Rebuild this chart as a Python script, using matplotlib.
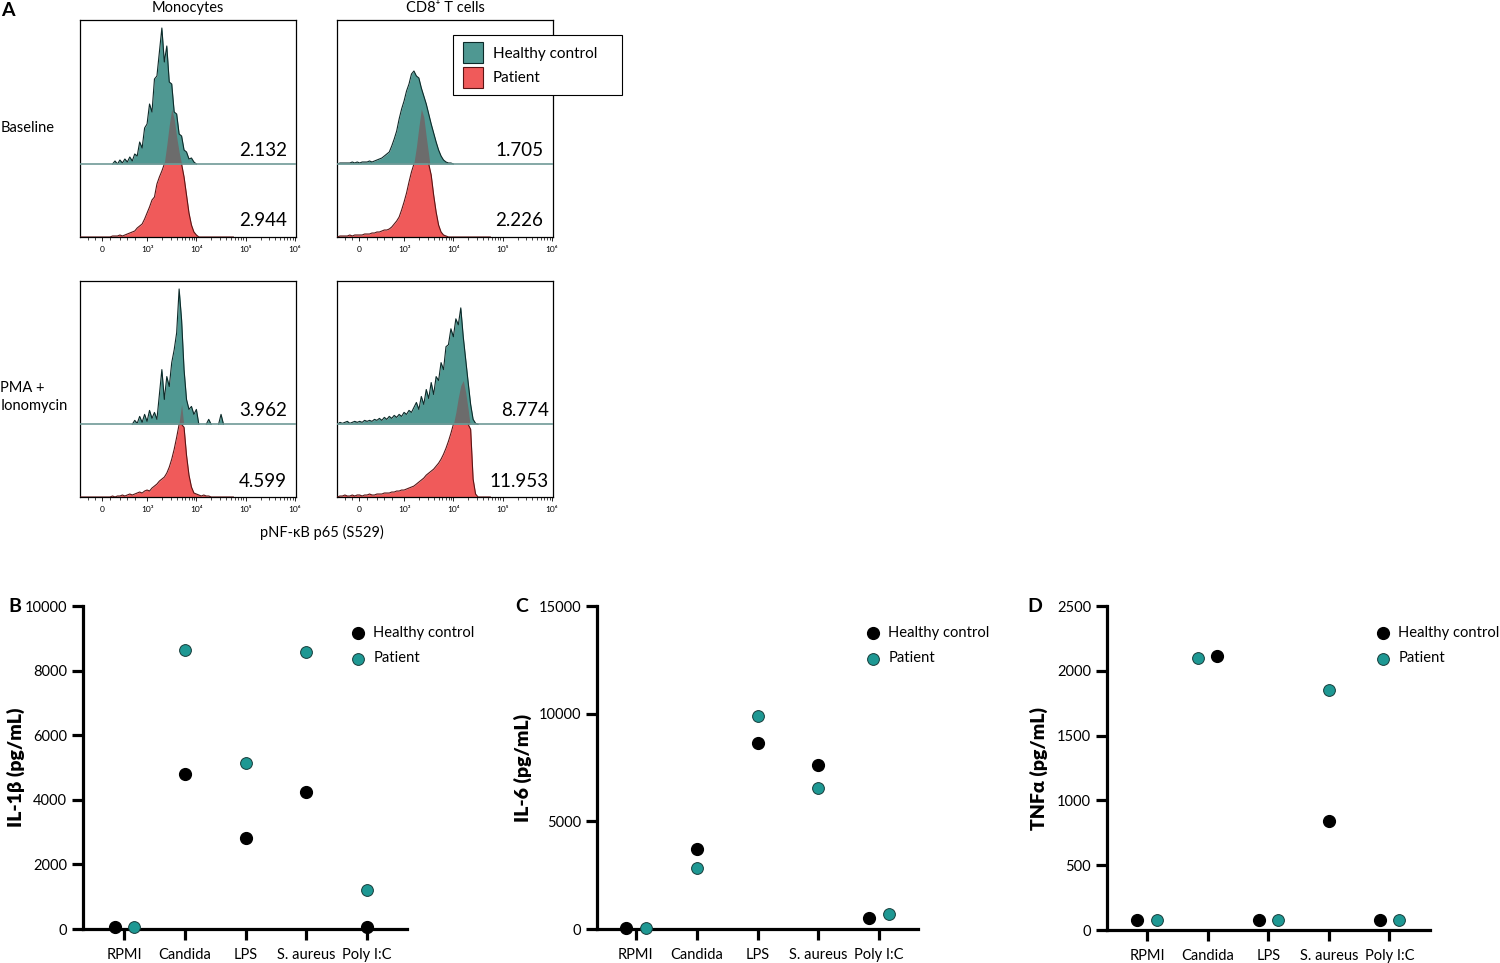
import numpy as np
import matplotlib
matplotlib.use("Agg")
import matplotlib.pyplot as plt
from matplotlib.patches import Patch, Rectangle
from matplotlib.lines import Line2D

plt.rcParams['font.family'] = ['Lato', 'DejaVu Sans']

# ---------------- Panel A data: flow cytometry histograms ----------------
# channel axis in display units (3 = 10^3, 4 = 10^4 ...), bins of 0.05
STEP = 0.05
hist_tick_pos = [2.09, 3, 4, 5, 6]
hist_tick_labels = ['0', '10³', '10⁴', '10⁵', '10⁶']
cell_types = ['Monocytes', 'CD8⁺ T cells']
conditions = ['Baseline', 'PMA +\nIonomycin']
groups = ['Healthy control', 'Patient']

mfi_hc = [[2.132, 1.705], [3.962, 8.774]]
mfi_pt = [[2.944, 2.226], [4.599, 11.953]]

# (start channel, counts) -- healthy control (upper, offset) and patient (lower)
mono_base_hc_start = 2.30
mono_base_hc = [0, 3, 0, 4, 1, 5, 2, 7, 3, 10, 8, 22, 16, 36, 40, 60, 52, 85, 88, 112,
                136, 102, 118, 82, 80, 52, 50, 30, 28, 14, 12, 5, 6, 2, 0]
mono_base_pt_start = 2.30
mono_base_pt = [1, 1, 1, 2, 1, 2, 3, 4, 5, 6, 9, 11, 13, 18, 24, 30, 37, 40, 53, 60,
                66, 74, 92, 112, 128, 118, 100, 85, 73, 60, 42, 24, 12, 5, 2, 0]

cd8_base_hc_start = 1.70
cd8_base_hc = [1, 1, 1, 1, 1, 2, 1, 2, 1, 2, 2, 2, 3, 2, 3, 4, 5, 6, 8, 10,
               12, 18, 25, 33, 45, 55, 63, 73, 80, 90, 93, 88, 86, 76, 68, 60, 50, 40, 31, 22,
               14, 8, 4, 2, 1, 1, 0]
cd8_base_pt_start = 1.70
cd8_base_pt = [1, 1, 1, 1, 2, 1, 2, 2, 2, 2, 3, 3, 3, 4, 4, 5, 5, 6, 7, 7,
               8, 10, 13, 16, 20, 27, 35, 44, 55, 65, 74, 90, 110, 128, 120, 100, 82, 62, 42, 25,
               12, 5, 2, 1, 0]

mono_pma_hc_start = 2.70
mono_pma_hc = [0, 4, 1, 8, 2, 10, 3, 14, 6, 12, 5, 30, 55, 25, 48, 38, 62, 75, 92, 136,
               105, 55, 25, 15, 18, 10, 15, 0, 0, 0, 0, 5, 0, 0, 0, 0, 10, 0]
mono_pma_pt_start = 2.30
mono_pma_pt = [1, 0, 1, 1, 2, 1, 2, 3, 2, 3, 4, 5, 4, 6, 7, 6, 9, 11, 13, 16,
               18, 20, 24, 30, 38, 48, 60, 75, 93, 70, 42, 22, 10, 4, 3, 2, 1, 2, 1, 1, 0]

cd8_pma_hc_start = 1.70
cd8_pma_hc = [2, 1, 2, 3, 1, 2, 3, 2, 3, 2, 4, 3, 4, 3, 5, 4, 6, 4, 7, 5,
              8, 6, 9, 7, 10, 8, 12, 10, 14, 12, 17, 22, 15, 28, 20, 35, 26, 42, 30, 48,
              44, 62, 55, 78, 80, 96, 88, 106, 100, 117, 88, 65, 42, 20, 5, 1, 0]
cd8_pma_pt_start = 1.70
cd8_pma_pt = [1, 1, 2, 1, 1, 2, 1, 2, 2, 1, 2, 2, 3, 2, 2, 3, 3, 3, 4, 4,
              4, 5, 5, 6, 6, 7, 7, 8, 9, 10, 11, 13, 15, 17, 19, 22, 24, 26, 28, 31,
              34, 38, 43, 49, 56, 64, 73, 85, 100, 112, 117, 105, 88, 68, 18, 3, 0]

# ---------------- Panels B-D data: cytokines ----------------
stimuli = ['RPMI', 'Candida', 'LPS', 'S. aureus', 'Poly I:C']
il1b_hc = [60, 4800, 2820, 4240, 70]
il1b_pt = [60, 8640, 5150, 8580, 1200]
il6_hc = [50, 3730, 8650, 7620, 510]
il6_pt = [50, 2830, 9910, 6540, 710]
tnfa_hc = [75, 2115, 75, 840, 75]
tnfa_pt = [75, 2100, 75, 1855, 75]

# ---------------- styling ----------------
W, H = 1500, 963
fig = plt.figure(figsize=(W / 100, H / 100), dpi=100)

TEAL = '#4f9892'
TEAL_EDGE = '#0c2a29'
RED = '#f05a5a'
RED_EDGE = '#5a1414'
GRAY = '#6c6c6c'
DIVC = '#6f9a97'
DOT_TEAL = '#1e9893'

channel = np.round(np.arange(1.60, 4.80, STEP), 2)


def on_grid(start, values):
    h = np.zeros(len(channel))
    i0 = int(round((start - channel[0]) / STEP))
    h[i0:i0 + len(values)] = values
    return h


def fax(l, t, r, b):
    return fig.add_axes([l / W, 1 - b / H, (r - l) / W, (b - t) / H])


DIV = 73.0
hist_data = {
    (0, 0): (mono_base_hc_start, mono_base_hc, mono_base_pt_start, mono_base_pt),
    (0, 1): (cd8_base_hc_start, cd8_base_hc, cd8_base_pt_start, cd8_base_pt),
    (1, 0): (mono_pma_hc_start, mono_pma_hc, mono_pma_pt_start, mono_pma_pt),
    (1, 1): (cd8_pma_hc_start, cd8_pma_hc, cd8_pma_pt_start, cd8_pma_pt),
}
box_x = [(80, 296), (337, 553)]
box_y = [(20, 237), (281, 497)]
num_right = [[0.958, 0.955], [0.958, 0.98]]

minor_ticks = [d + np.log10(k) for d in (3, 4, 5) for k in range(2, 10)] + [1.8, 1.95, 2.25, 2.45, 2.6, 2.75]

for (r, c), (s_hc, v_hc, s_pt, v_pt) in hist_data.items():
    ax = fax(box_x[c][0], box_y[r][0], box_x[c][1], box_y[r][1])
    ax.set_xlim(1.64, 6.02)
    ax.set_ylim(0, 217)
    h_hc = on_grid(s_hc, v_hc)
    h_pt = on_grid(s_pt, v_pt)
    # patient (lower)
    ax.fill_between(channel, 0, np.minimum(h_pt, DIV), color=RED, lw=0, zorder=1)
    # healthy control (upper, offset)
    ax.fill_between(channel, DIV, DIV + h_hc, color=TEAL, lw=0, zorder=2)
    # overlap of patient above the divider
    top = np.minimum(h_pt, DIV + h_hc)
    ax.fill_between(channel, DIV, top, where=h_pt > DIV, interpolate=True,
                    color=GRAY, lw=0, zorder=3)
    # outlines
    nz = (h_hc > 0) | (np.roll(h_hc, 1) > 0) | (np.roll(h_hc, -1) > 0)
    ax.plot(channel, np.where(nz, DIV + h_hc, np.nan), color=TEAL_EDGE, lw=0.8, zorder=4)
    low = h_pt < DIV
    keep = low | np.roll(low, 1) | np.roll(low, -1)
    ax.plot(channel, np.where(keep, np.minimum(h_pt, DIV), np.nan), color=RED_EDGE, lw=0.8, zorder=4)
    ax.axhline(DIV, color=DIVC, lw=1.2, zorder=5)
    # numbers
    ax.text(num_right[r][c], (DIV + 14) / 217, f'{mfi_hc[r][c]:.3f}', transform=ax.transAxes,
            ha='right', va='center', fontsize=13.5, zorder=6)
    ax.text(num_right[r][c], 16 / 217, f'{mfi_pt[r][c]:.3f}', transform=ax.transAxes,
            ha='right', va='center', fontsize=13.5, zorder=6)
    ax.set_yticks([])
    ax.set_xticks(hist_tick_pos)
    ax.set_xticklabels(hist_tick_labels, fontsize=6)
    ax.set_xticks(minor_ticks, minor=True)
    ax.tick_params(axis='x', which='major', length=3, width=0.6, pad=3.5)
    ax.tick_params(axis='x', which='minor', length=1.8, width=0.5)
    for sp in ax.spines.values():
        sp.set_linewidth(0.9)

# titles and labels of panel A
fig.text(188 / W, 1 - 8 / H, cell_types[0], ha='center', va='center', fontsize=10.5)
fig.text(445 / W, 1 - 8 / H, cell_types[1], ha='center', va='center', fontsize=10.5)
fig.text(0.5 / W, 1 - 128 / H, conditions[0], ha='left', va='center', fontsize=10.5)
fig.text(0.5 / W, 1 - 397 / H, conditions[1], ha='left', va='center', fontsize=10.5,
         linespacing=1.3)
fig.text(322 / W, 1 - 532 / H, 'pNF-κB p65 (S529)', ha='center', va='center', fontsize=10.5)
fig.text(1 / W, 1 - 10 / H, 'A', ha='left', va='center', fontsize=14, fontweight='bold')

# legend of panel A
fig.patches.append(Rectangle((453 / W, 1 - 95 / H), 169 / W, 60 / H, transform=fig.transFigure,
                             facecolor='white', edgecolor='black', lw=0.8, zorder=10))
legA = fig.legend(handles=[Patch(facecolor=TEAL, edgecolor=TEAL_EDGE, lw=0.8),
                           Patch(facecolor=RED, edgecolor=RED_EDGE, lw=0.8)],
                  labels=groups, loc='upper left', bbox_to_anchor=(463 / W, 1 - 42 / H),
                  frameon=False, fontsize=11, handlelength=1.3, handleheight=1.75,
                  labelspacing=0.25, handletextpad=0.65, borderpad=0, borderaxespad=0)
legA.set_zorder(11)

# ---------------- Panels B-D ----------------
panels = [
    ('B', (83, 606, 407, 929), il1b_hc, il1b_pt, [-0.16, 0, 0, 0, 0], [0.16, 0, 0, 0, 0],
     10000, [0, 2000, 4000, 6000, 8000, 10000], 'IL-1β (pg/mL)', -0.179, (-0.68, 4.66), 8, 352),
    ('C', (597, 606, 918, 929), il6_hc, il6_pt, [-0.16, 0, 0, 0, -0.16], [0.16, 0, 0, 0, 0.16],
     15000, [0, 5000, 10000, 15000], 'IL-6 (pg/mL)', -0.201, (-0.64, 4.64), 515, 867),
    ('D', (1107, 606, 1430, 930), tnfa_hc, tnfa_pt, [-0.16, 0.16, -0.16, 0, -0.16],
     [0.16, -0.16, 0.16, 0, 0.16],
     2500, [0, 500, 1000, 1500, 2000, 2500], 'TNFα (pg/mL)', -0.182, (-0.66, 4.67), 1027, 1377),
]

for letter, (l, t, rr, b), hc, pt, hoff, poff, ymax, yt, ylab, labx, xl, letx, legx in panels:
    ax = fax(l, t, rr, b)
    x = np.arange(len(stimuli))
    ax.scatter(x + np.array(hoff), hc, s=72, color='black', zorder=5, clip_on=False,
               label=groups[0])
    ax.scatter(x + np.array(poff), pt, s=72, color=DOT_TEAL, edgecolor='#163c3a', lw=0.7,
               zorder=5, clip_on=False, label=groups[1])
    ax.set_xlim(*xl)
    ax.set_ylim(0, ymax)
    ax.set_yticks(yt)
    ax.set_xticks(x)
    ax.set_xticklabels(stimuli)
    for s in ('top', 'right'):
        ax.spines[s].set_visible(False)
    for s in ('left', 'bottom'):
        ax.spines[s].set_linewidth(2.3)
    ax.tick_params(axis='both', length=8, width=2.3, labelsize=10.5)
    ax.tick_params(axis='x', pad=5.5)
    ax.tick_params(axis='y', pad=3.5)
    ax.set_ylabel(ylab, fontsize=14, fontweight='heavy')
    ax.yaxis.set_label_coords(labx, 0.5)
    ax.legend(loc='upper left', bbox_to_anchor=(legx / W, 1 - 626 / H),
              bbox_transform=fig.transFigure, frameon=False, fontsize=10.6,
              handlelength=0.8, handletextpad=0.65, labelspacing=0.78,
              borderpad=0, borderaxespad=0, scatterpoints=1)
    fig.text(letx / W, 1 - 606 / H, letter, ha='left', va='center', fontsize=14,
             fontweight='bold')

fig.savefig('out.png', dpi=100)
